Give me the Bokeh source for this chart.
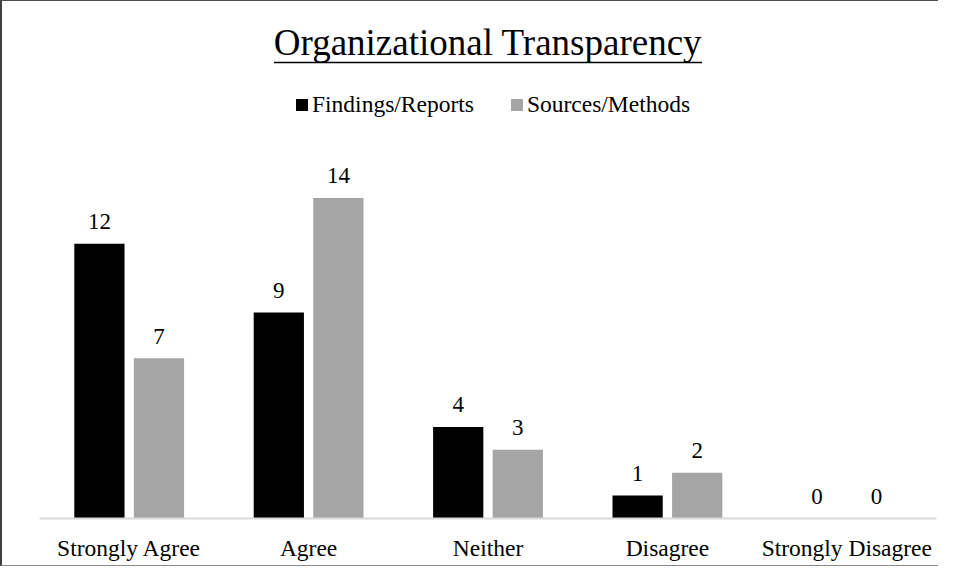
from bokeh.plotting import figure
from bokeh.models import ColumnDataSource, FactorRange, Label, Legend, LegendItem, Arrow, Range1d
from bokeh.transform import dodge
from bokeh.core.properties import value
from bokeh.embed import file_html
from bokeh.resources import INLINE

categories = ["Strongly Agree", "Agree", "Neither", "Disagree", "Strongly Disagree"]
findings = [12, 9, 4, 1, 0]
sources = [7, 14, 3, 2, 0]
series_names = ["Findings/Reports", "Sources/Methods"]
title_text = "Organizational Transparency"

FONT = "Liberation Serif"
W, H = 938, 566
BL, BR, BT, BB = 37, 4, 0, 49
PX_PER_UNIT = 22.9

frame_w = W - BL - BR
frame_h = H - BT - BB
cx = frame_w / 2

src = ColumnDataSource(dict(
    cat=categories, f=findings, s=sources,
    ft=[str(v) for v in findings], st=[str(v) for v in sources],
))

p = figure(x_range=FactorRange(factors=categories), y_range=Range1d(0, frame_h / PX_PER_UNIT),
           width=W, height=H, output_backend="svg", toolbar_location=None,
           min_border_left=BL, min_border_right=BR, min_border_top=BT, min_border_bottom=BB)
p.styles = {"border-left": "2px solid #404040", "border-top": "1px solid #505050",
            "border-bottom": "1px solid #8a8a8a", "box-sizing": "border-box"}

off = 0.166
bw = 0.28
r1 = p.vbar(x=dodge("cat", -off, range=p.x_range), top="f", width=bw, source=src,
            fill_color="#000000", line_color=None)
r2 = p.vbar(x=dodge("cat", off, range=p.x_range), top="s", width=bw, source=src,
            fill_color="#a5a5a5", line_color=None)

for col, tcol, dx in (("f", "ft", -off), ("s", "st", off)):
    p.text(x=dodge("cat", dx, range=p.x_range), y=col, text=tcol, source=src,
           text_font=value(FONT), text_font_size="23px", text_align="center",
           text_baseline="alphabetic", y_offset=-22, text_color="#000000")

p.xgrid.visible = False
p.ygrid.visible = False
p.yaxis.visible = False
p.outline_line_color = None
p.xaxis.axis_line_color = "#d9d9d9"
p.xaxis.axis_line_width = 2
p.xaxis.major_tick_line_color = None
p.xaxis.major_tick_out = 0
p.xaxis.major_tick_in = 0
p.xaxis.minor_tick_line_color = None
p.xaxis.major_label_text_font = FONT
p.xaxis.major_label_text_font_size = "23.5px"
p.xaxis.major_label_text_color = "#000000"
p.xaxis.major_label_standoff = 16

title = Label(x=cx, y=frame_h - 41, x_units="screen", y_units="screen", text=title_text,
              text_font=FONT, text_font_size="37px", text_align="center",
              text_baseline="alphabetic", text_color="#000000")
p.add_layout(title)
p.add_layout(Arrow(end=None, x_start=cx - 214, x_end=cx + 214, y_start=frame_h - 61,
                   y_end=frame_h - 61, start_units="screen", end_units="screen",
                   line_color="#000000", line_width=1.5))

legend = Legend(items=[LegendItem(label=series_names[0], renderers=[r1]),
                       LegendItem(label=series_names[1], renderers=[r2])],
                orientation="horizontal", location=(255, frame_h - 117),
                label_text_font=FONT, label_text_font_size="23.5px", label_text_color="#000000",
                glyph_width=15, glyph_height=15, label_standoff=3, spacing=35,
                padding=0, margin=0, border_line_color=None, background_fill_alpha=0)
p.add_layout(legend, "center")

open("out.html", "w").write(file_html(p, INLINE))
